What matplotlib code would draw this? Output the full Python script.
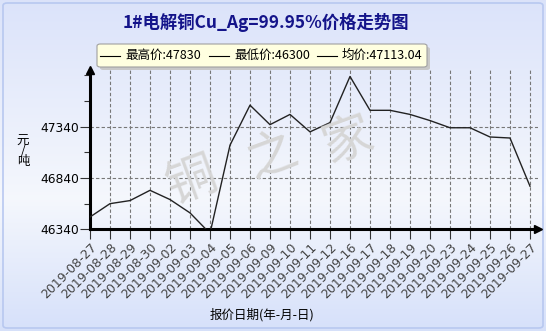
import matplotlib.pyplot as plt
import numpy as np
from matplotlib.patches import FancyBboxPatch

plt.rcParams['font.family'] = ['Noto Sans CJK SC', 'DejaVu Sans']

dates = ["2019-08-27", "2019-08-28", "2019-08-29", "2019-08-30", "2019-09-02",
         "2019-09-03", "2019-09-04", "2019-09-05", "2019-09-06", "2019-09-09",
         "2019-09-10", "2019-09-11", "2019-09-12", "2019-09-16", "2019-09-17",
         "2019-09-18", "2019-09-19", "2019-09-20", "2019-09-23", "2019-09-24",
         "2019-09-25", "2019-09-26", "2019-09-27"]
prices = [46460, 46590, 46620, 46720, 46630, 46500, 46300, 47160, 47550, 47360,
          47460, 47290, 47380, 47830, 47500, 47500, 47460, 47400, 47330, 47330,
          47240, 47230, 46760]
y_ticks = [46340, 46840, 47340]
title = "1#电解铜Cu_Ag=99.95%价格走势图"
legend_items = ["最高价:47830", "最低价:46300", "均价:47113.04"]

W, H = 546, 331
fig = plt.figure(figsize=(W / 100, H / 100), dpi=100)

# background gradient
bg = fig.add_axes([0, 0, 1, 1])
yy = np.linspace(0, 1, 200)
top = np.array([0.86, 0.89, 0.98])
mid = np.array([0.96, 0.97, 0.99])
bot = np.array([0.84, 0.88, 0.98])
cols = np.where(yy[:, None] < 0.6,
                top + (mid - top) * (yy[:, None] / 0.6),
                mid + (bot - mid) * ((yy[:, None] - 0.6) / 0.4))
bg.imshow(cols[:, None, :], aspect="auto", extent=[0, 1, 1, 0])
bg.set_xlim(0, 1)
bg.set_ylim(1, 0)
bg.axis("off")
bg.add_patch(FancyBboxPatch((3 / W, 3 / H), 1 - 6 / W, 1 - 6 / H,
                            boxstyle="round,pad=0,rounding_size=0.008",
                            fc="none", ec="#b8c8f0", lw=1.2,
                            transform=bg.transAxes))

# title
fig.text(266 / W, 1 - 22 / H, title, ha="center", va="center",
         fontsize=12.5, color="#14148a", fontweight="bold")

# legend box
bg.add_patch(FancyBboxPatch((100 / W, 1 - 70 / H), 330 / W, 23 / H,
                            boxstyle="round,pad=0,rounding_size=0.006",
                            fc="#c8c8c8", ec="none", transform=bg.transAxes))
bg.add_patch(FancyBboxPatch((97 / W, 1 - 67 / H), 330 / W, 23 / H,
                            boxstyle="round,pad=0,rounding_size=0.006",
                            fc="#ffffe0", ec="#a0a0a0", lw=0.8,
                            transform=bg.transAxes))
lx = [100, 209, 317]
for x0, txt in zip(lx, legend_items):
    bg.plot([x0 / W, (x0 + 20) / W], [1 - 55.5 / H] * 2, color="black",
            lw=0.8, transform=bg.transAxes)
    fig.text((x0 + 25) / W, 1 - 55.5 / H, txt, ha="left", va="center",
             fontsize=9, color="black")

# main axes
ax = fig.add_axes([90 / W, 1 - 229.3 / H, 448 / W, 159.3 / H])
ax.patch.set_alpha(0)
x = np.arange(len(dates))
ax.plot(x, prices, color="#222222", lw=1.0, zorder=3)
ax.set_xlim(0, 22.4)
ax.set_ylim(46340, 47893)

ax.set_xticks(x)
ax.set_xticklabels(dates, rotation=45, ha="right", rotation_mode="anchor",
                   fontsize=9, color="#444444", family="DejaVu Sans")
ax.set_yticks(y_ticks)
ax.set_yticklabels([str(v) for v in y_ticks], fontsize=8.8,
                   family="DejaVu Sans")
ax.set_yticks([46590, 47090, 47590, 47840], minor=True)
ax.tick_params(axis="x", length=7, width=0.8, pad=1, color="#333333")
ax.tick_params(axis="y", which="major", length=7, width=0.8, pad=1,
               color="#333333")
ax.tick_params(axis="y", which="minor", length=4, width=0.8,
               color="#333333")

for xi in x[1:]:
    ax.axvline(xi, color="#777777", lw=0.8, ls=(0, (3, 2)), zorder=1)
for yv in y_ticks[1:]:
    ax.axhline(yv, color="#777777", lw=0.8, ls=(0, (3, 2)), zorder=1)

for s in ["top", "right"]:
    ax.spines[s].set_visible(False)
for s in ["left", "bottom"]:
    ax.spines[s].set_linewidth(2.2)
    ax.spines[s].set_color("black")
ax.plot(1.0, 0, ">k", transform=ax.transAxes, clip_on=False, markersize=6)
ax.plot(0, 1.0, "^k", transform=ax.transAxes, clip_on=False, markersize=6)

# watermark
for (cx, cy), ch in zip([(192, 182), (272, 157), (348, 140)], "铜之家"):
    fig.text(cx / W, 1 - cy / H, ch, ha="center", va="center", fontsize=36,
             color="#d6d6d6", alpha=1.0, rotation=20, zorder=0)

# axis labels
fig.text(23 / W, 1 - 151 / H, "元\n/\n吨", ha="center", va="center",
         fontsize=9, linespacing=0.7)
fig.text(262 / W, 1 - 315 / H, "报价日期(年-月-日)", ha="center",
         va="center", fontsize=9)

fig.savefig("out.png", dpi=100)
